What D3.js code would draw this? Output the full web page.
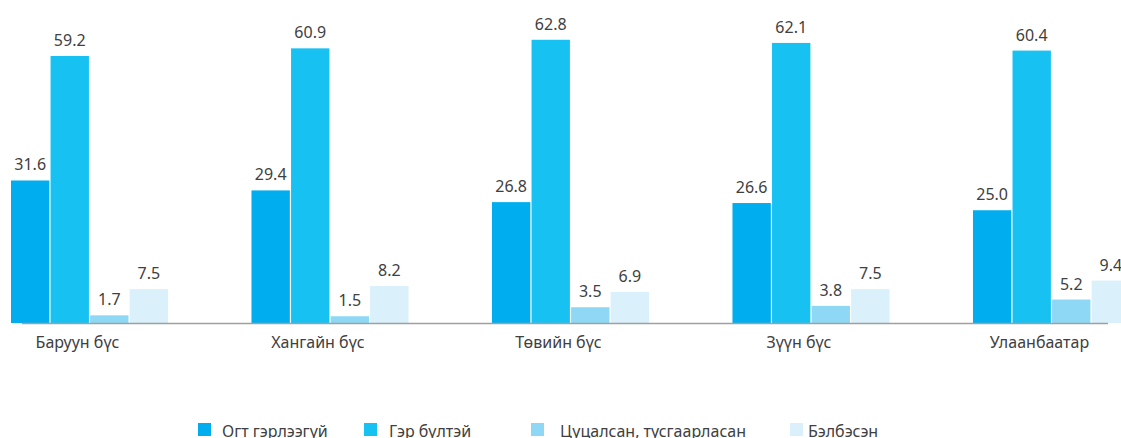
<!DOCTYPE html>
<html><head><meta charset="utf-8">
<script src="https://cdn.jsdelivr.net/npm/d3@7"></script>
<style>
html,body{margin:0;padding:0;background:#fff;overflow:hidden}
text{font-family:"Noto Sans","Open Sans",sans-serif;fill:#404040}
</style></head>
<body><svg id="c" width="1121" height="438"></svg>
<script>
const categories = ["Баруун бүс","Хангайн бүс","Төвийн бүс","Зүүн бүс","Улаанбаатар"];
const seriesNames = ["Огт гэрлээгүй","Гэр бүлтэй","Цуцалсан, тусгаарласан","Бэлбэсэн"];
const neverMarried = [31.6,29.4,26.8,26.6,25.0];
const married = [59.2,60.9,62.8,62.1,60.4];
const divorced = [1.7,1.5,3.5,3.8,5.2];
const widowed = [7.5,8.2,6.9,7.5,9.4];
const seriesValues = [neverMarried, married, divorced, widowed];
const colors = ["#00AEEF","#17C2F2","#8ED8F6","#DAF0FB"];

const svg = d3.select("#c");
const baseY = 323;
const y = d3.scaleLinear().domain([0,70]).range([baseY, baseY-70*4.51]);
const x0 = d3.scaleBand().domain(categories).range([11,1130]).paddingInner(0.347).paddingOuter(0);
const x1 = d3.scaleBand().domain(seriesNames).range([0,x0.bandwidth()]).paddingInner(0.03);

const data = [];
categories.forEach((c,i)=>seriesNames.forEach((s,j)=>data.push({c,s,j,v:seriesValues[j][i]})));

svg.append("g").selectAll("rect").data(data).join("rect")
  .attr("x",d=>x0(d.c)+x1(d.s))
  .attr("y",d=>y(d.v))
  .attr("width",x1.bandwidth())
  .attr("height",d=>baseY-y(d.v))
  .attr("fill",d=>colors[d.j]);

svg.append("g").selectAll("text").data(data).join("text")
  .attr("x",d=>x0(d.c)+x1(d.s)+x1.bandwidth()/2)
  .attr("y",d=>y(d.v)-10)
  .attr("text-anchor","middle")
  .attr("font-size",16)
  .text(d=>d.v.toFixed(1));

svg.append("line").attr("x1",22).attr("x2",1108).attr("y1",baseY+0.5).attr("y2",baseY+0.5)
  .attr("stroke","#a0a0a0").attr("stroke-width",1.5);

svg.append("g").selectAll("text").data(categories).join("text")
  .attr("x",d=>x0(d)+x0.bandwidth()/2-12)
  .attr("y",348)
  .attr("text-anchor","middle")
  .attr("font-size",16)
  .text(d=>d);

const legX = [198,364,531,790];
const lg = svg.append("g").selectAll("g").data(seriesNames).join("g")
  .attr("transform",(d,i)=>`translate(${legX[i]},423)`);
lg.append("rect").attr("width",13).attr("height",13).attr("fill",(d,i)=>colors[i]);
lg.append("text").attr("x",(d,i)=>[24,25,29,18][i]).attr("y",14).attr("font-size",16).text(d=>d);
</script></body></html>
